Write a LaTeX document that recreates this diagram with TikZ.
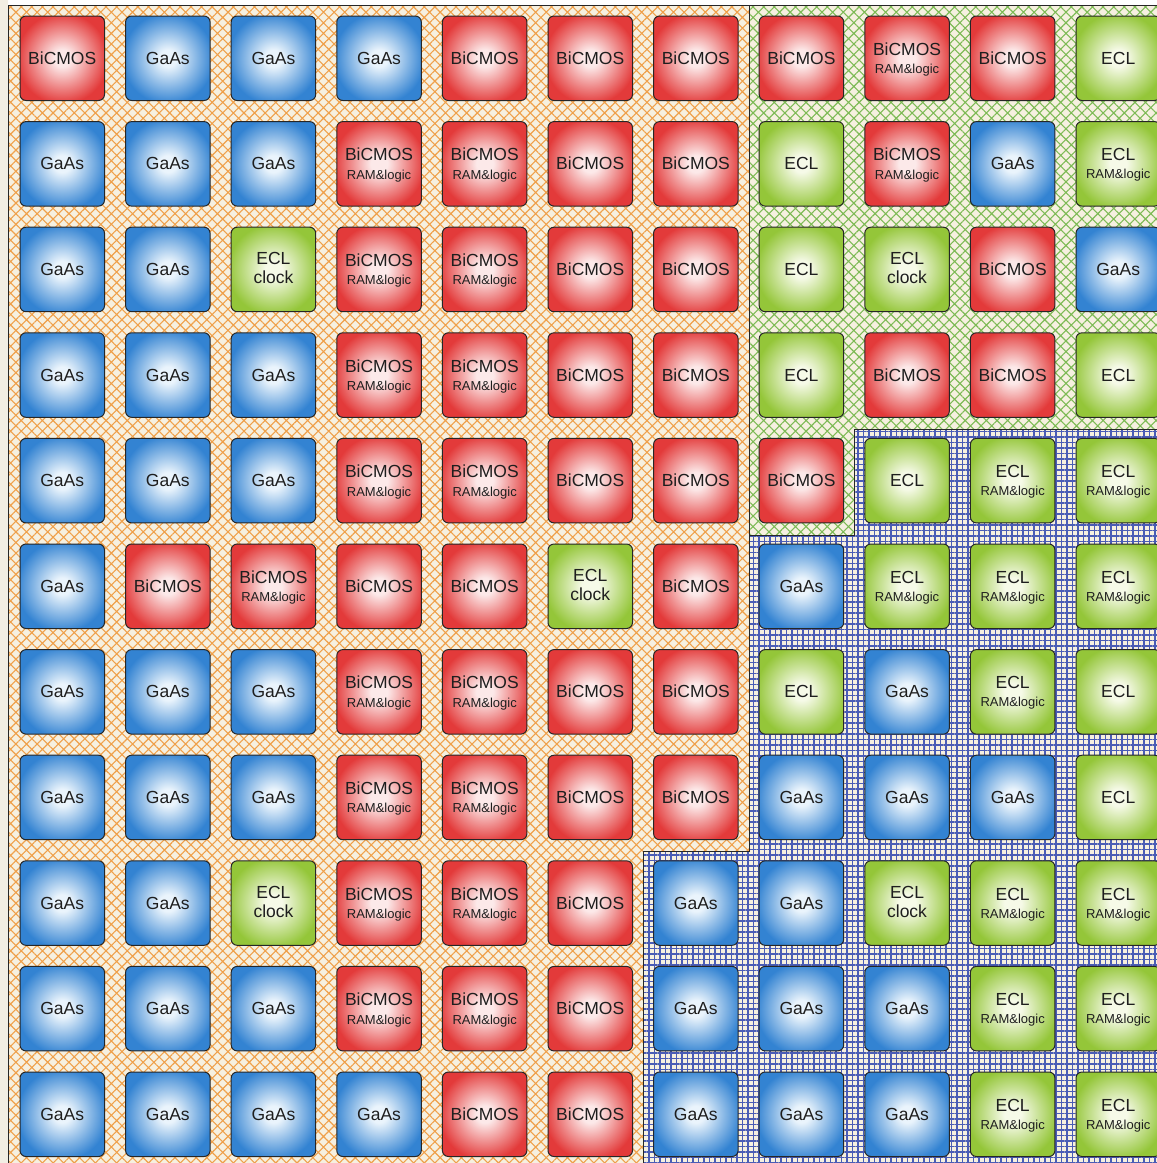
\documentclass[tikz,border=0pt]{standalone}
\usepackage{fontspec}
\setmainfont{Liberation Sans}
\usetikzlibrary{patterns.meta}
\definecolor{redout}{HTML}{E33A3A}
\definecolor{redin}{HTML}{FCE9E9}
\colorlet{redmid}{redin!45!redout}
\definecolor{blueout}{HTML}{3383D2}
\definecolor{bluein}{HTML}{EAF4FC}
\colorlet{bluemid}{bluein!45!blueout}
\definecolor{greenout}{HTML}{94C639}
\definecolor{greenin}{HTML}{F6FAE8}
\colorlet{greenmid}{greenin!45!greenout}
\definecolor{paper}{HTML}{F6F0E0}
\definecolor{margin}{HTML}{F2EEE3}
\definecolor{hatchorange}{HTML}{EFA04A}
\definecolor{hatchgreen}{HTML}{7DBA55}
\definecolor{hatchblue}{HTML}{4A5CB5}
\definecolor{ink}{HTML}{1E1E1E}
\pgfdeclareradialshading{tilered}{\pgfpointorigin}{color(0bp)=(redin); color(5bp)=(redin); color(17bp)=(redmid); color(27bp)=(redout); color(50bp)=(redout)}
\pgfdeclareradialshading{tileblue}{\pgfpointorigin}{color(0bp)=(bluein); color(5bp)=(bluein); color(17bp)=(bluemid); color(27bp)=(blueout); color(50bp)=(blueout)}
\pgfdeclareradialshading{tilegreen}{\pgfpointorigin}{color(0bp)=(greenin); color(5bp)=(greenin); color(17bp)=(greenmid); color(27bp)=(greenout); color(50bp)=(greenout)}
\tikzset{
  tile/.style={rectangle, minimum width=84.5pt, minimum height=84.5pt, rounded corners=6pt,
    draw=black!85, line width=1pt, inner sep=0pt},
  big/.style={anchor=base, inner sep=0pt, text=ink, font=\fontsize{17.5}{20}\selectfont},
  small/.style={anchor=base, inner sep=0pt, text=ink, font=\fontsize{13}{15}\selectfont},
  border/.style={draw=black!85, line width=1pt},
}
\newcommand\tileB[3]{\node[tile,shading=tilered] (#3) at (#1,#2) {};
  \node[big] (#3-a) at (#1,#2+6) {BiCMOS};}
\newcommand\tileBR[3]{\node[tile,shading=tilered] (#3) at (#1,#2) {};
  \node[big] (#3-a) at (#1,#2-3) {BiCMOS};
  \node[small] (#3-b) at (#1,#2+15.5) {RAM\&logic};}
\newcommand\tileG[3]{\node[tile,shading=tileblue] (#3) at (#1,#2) {};
  \node[big] (#3-a) at (#1,#2+6) {GaAs};}
\newcommand\tileE[3]{\node[tile,shading=tilegreen] (#3) at (#1,#2) {};
  \node[big] (#3-a) at (#1,#2+6) {ECL};}
\newcommand\tileER[3]{\node[tile,shading=tilegreen] (#3) at (#1,#2) {};
  \node[big] (#3-a) at (#1,#2-3) {ECL};
  \node[small] (#3-b) at (#1,#2+15) {RAM\&logic};}
\newcommand\tileEC[3]{\node[tile,shading=tilegreen] (#3) at (#1,#2) {};
  \node[big] (#3-a) at (#1,#2-4.5) {ECL};
  \node[big] (#3-b) at (#1,#2+14) {clock};}
\begin{document}
\begin{tikzpicture}[x=1pt,y=-1pt]
\useasboundingbox (0,0) rectangle (1157,1163);
\fill[white] (0,0) rectangle (1157,1163);
\fill[margin] (0,0) rectangle (8,1163);
% orange region
\fill[paper] (8,5) -- (749,5) -- (749,851) -- (643,851) -- (643,1163) -- (8,1163) -- cycle;
\fill[pattern={Hatch[angle=45,distance=7.5pt,line width=1.1pt]}, pattern color=hatchorange]
  (8,5) -- (749,5) -- (749,851) -- (643,851) -- (643,1163) -- (8,1163) -- cycle;
% green region
\fill[paper] (749,5) -- (1157,5) -- (1157,429) -- (854,429) -- (854,535) -- (749,535) -- cycle;
\fill[pattern={Hatch[angle=45,distance=7.5pt,line width=1.1pt]}, pattern color=hatchgreen]
  (749,5) -- (1157,5) -- (1157,429) -- (854,429) -- (854,535) -- (749,535) -- cycle;
% blue region
\fill[paper] (854,429) -- (1157,429) -- (1157,1163) -- (643,1163) -- (643,851) -- (749,851) -- (749,535) -- (854,535) -- cycle;
\fill[pattern={Hatch[angle=0,distance=5.5pt,line width=1.25pt]}, pattern color=hatchblue]
  (854,429) -- (1157,429) -- (1157,1163) -- (643,1163) -- (643,851) -- (749,851) -- (749,535) -- (854,535) -- cycle;
% borders
\draw[border] (8,1163) -- (8,5) -- (1157,5);
\draw[border] (749,5) -- (749,851) -- (643,851) -- (643,1163);
\draw[border] (1157,429) -- (854,429) -- (854,535) -- (749,535);
% tiles
\foreach \rowlist [count=\r from 0] in {
  {B,G,G,G,B,B,B,B,BR,B,E},
  {G,G,G,BR,BR,B,B,E,BR,G,ER},
  {G,G,EC,BR,BR,B,B,E,EC,B,G},
  {G,G,G,BR,BR,B,B,E,B,B,E},
  {G,G,G,BR,BR,B,B,B,E,ER,ER},
  {G,B,BR,B,B,EC,B,G,ER,ER,ER},
  {G,G,G,BR,BR,B,B,E,G,ER,E},
  {G,G,G,BR,BR,B,B,G,G,G,E},
  {G,G,EC,BR,BR,B,G,G,EC,ER,ER},
  {G,G,G,BR,BR,B,G,G,G,ER,ER},
  {G,G,G,G,B,B,G,G,G,ER,ER}} {
  \foreach \ty [count=\c from 0] in \rowlist {
    \pgfmathsetmacro\cx{62.25+105.6*\c}
    \pgfmathsetmacro\cy{58.25+105.6*\r}
    \csname tile\ty\endcsname{\cx}{\cy}{t\r-\c}
  }
}
\end{tikzpicture}
\end{document}
